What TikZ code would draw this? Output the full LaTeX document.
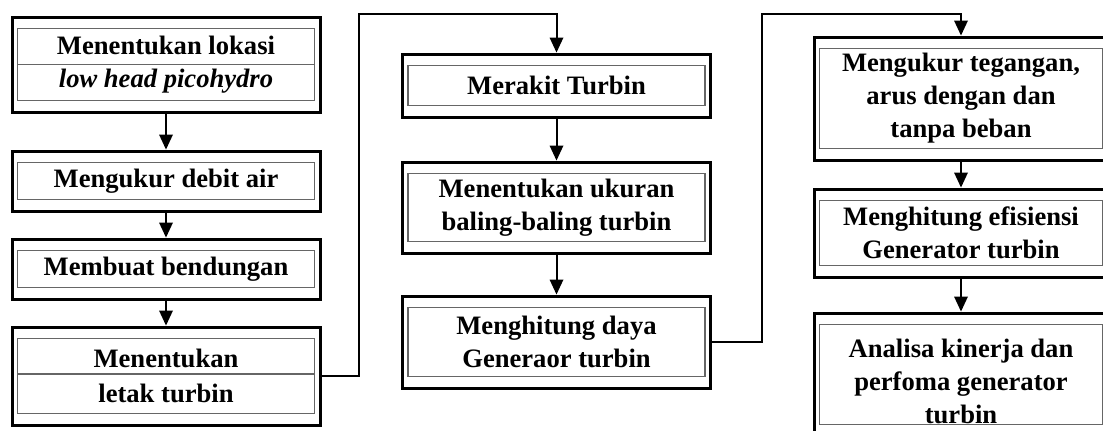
\documentclass[tikz,border=0pt]{standalone}
\usepackage{fontspec}
\setmainfont{Liberation Serif}
\usepackage{tikz}

\begin{document}
\begin{tikzpicture}[x=0.5pt,y=0.5pt]
			\tikzstyle{every node}+=[inner sep=0pt]
			\tikzstyle{steptext}=[align=center, font=\bfseries\fontsize{13.3}{16.5}\selectfont]
			\tikzstyle{stepbox}=[steptext, draw=black, line width=1.5pt, minimum width=154pt, path picture={\draw [black!60, line width=0.6pt] ([shift={(2.75pt,-5.75pt)}]path picture bounding box.north west) rectangle ([shift={(-2.75pt,5.75pt)}]path picture bounding box.south east);}]
			\tikzstyle{divider}=[black!60, line width=0.6pt]
			\tikzstyle{link}=[black, line width=1pt]
			\useasboundingbox (0,0) rectangle (1103,-430);
			\node [stepbox, minimum height=47.5pt] (b1) at (166,-64.5) {Menentukan lokasi\\\textit{low head picohydro}};
			\draw [divider] ([xshift=3.5pt]b1.west) -- ([xshift=-3.5pt]b1.east);
			\node [stepbox, minimum height=30pt] (b2) at (166,-181) {Mengukur debit air};
			\node [stepbox, minimum height=30pt] (b3) at (166,-269) {Membuat bendungan};
			\node [stepbox, minimum height=49pt] (b4) at (166,-376) {Menentukan\\[1pt]letak turbin};
			\draw [divider] ([xshift=3.5pt,yshift=1pt]b4.west) -- ([xshift=-3.5pt,yshift=1pt]b4.east);
			\node [stepbox, minimum height=31.5pt] (b5) at (556.5,-85.5) {Merakit Turbin};
			\node [stepbox, minimum height=45.5pt] (b6) at (556.5,-207.5) {Menentukan ukuran\\baling-baling turbin};
			\node [stepbox, minimum height=46pt] (b7) at (556.5,-342) {Menghitung daya\\Generaor turbin};
			\node [stepbox, minimum width=147pt, minimum height=61.5pt] (b8) at (961,-98.5) {Mengukur tegangan,\\arus dengan dan\\tanpa beban};
			\node [stepbox, minimum width=147pt, minimum height=44pt] (b9) at (961,-233) {Menghitung efisiensi\\Generator turbin};
			\node [stepbox, minimum width=147pt, minimum height=61.5pt] (b10) at (961,-374.5) {};
			\node [steptext] (t10) at (961,-381) {Analisa kinerja dan\\perfoma generator\\turbin};
			\draw [link] (b1.south) -- ([yshift=7pt]b2.north);
			\fill [black] (b2.north) -- ++(-3.5pt,7.5pt) -- ++(7pt,0pt) -- cycle;
			\draw [link] (b2.south) -- ([yshift=7pt]b3.north);
			\fill [black] (b3.north) -- ++(-3.5pt,7.5pt) -- ++(7pt,0pt) -- cycle;
			\draw [link] (b3.south) -- ([yshift=7pt]b4.north);
			\fill [black] (b4.north) -- ++(-3.5pt,7.5pt) -- ++(7pt,0pt) -- cycle;
			\coordinate (k1) at (359,-14);
			\draw [link] (b4.east) -| (k1) -| ([yshift=7pt]b5.north);
			\fill [black] (b5.north) -- ++(-3.5pt,7.5pt) -- ++(7pt,0pt) -- cycle;
			\draw [link] (b5.south) -- ([yshift=7pt]b6.north);
			\fill [black] (b6.north) -- ++(-3.5pt,7.5pt) -- ++(7pt,0pt) -- cycle;
			\draw [link] (b6.south) -- ([yshift=7pt]b7.north);
			\fill [black] (b7.north) -- ++(-3.5pt,7.5pt) -- ++(7pt,0pt) -- cycle;
			\coordinate (k2) at (762,-14);
			\draw [link] (b7.east) -| (k2) -| ([yshift=7pt]b8.north);
			\fill [black] (b8.north) -- ++(-3.5pt,7.5pt) -- ++(7pt,0pt) -- cycle;
			\draw [link] (b8.south) -- ([yshift=7pt]b9.north);
			\fill [black] (b9.north) -- ++(-3.5pt,7.5pt) -- ++(7pt,0pt) -- cycle;
			\draw [link] (b9.south) -- ([yshift=7pt]b10.north);
			\fill [black] (b10.north) -- ++(-3.5pt,7.5pt) -- ++(7pt,0pt) -- cycle;
\end{tikzpicture}
\end{document}
